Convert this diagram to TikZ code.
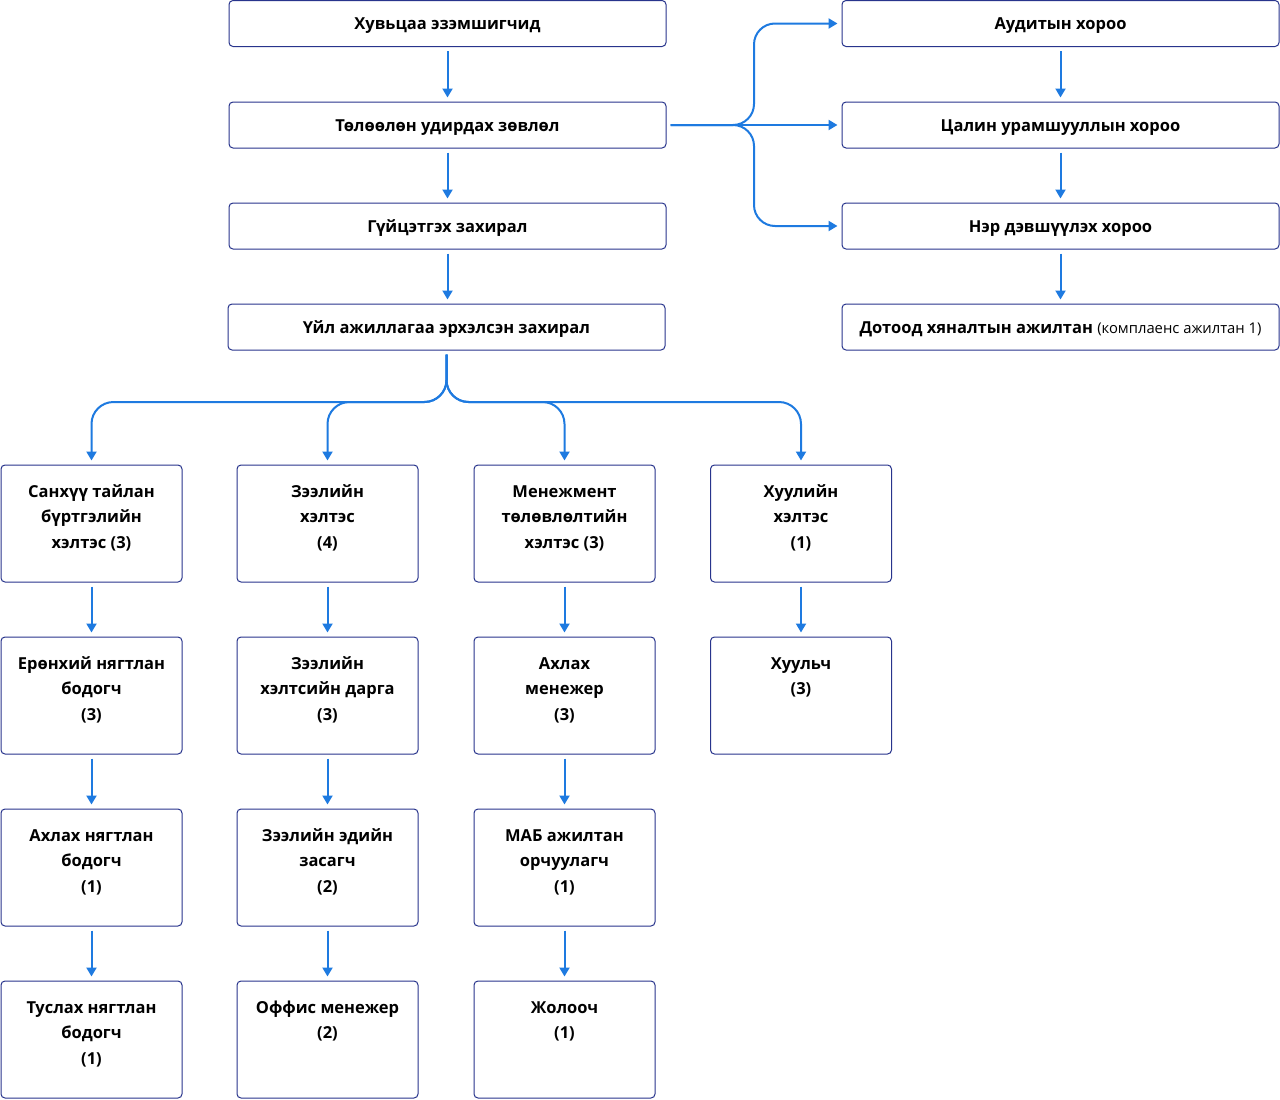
\documentclass[tikz,border=0pt]{standalone}
\usepackage{fontspec}
\setmainfont{Open Sans}
\usetikzlibrary{arrows.meta}
\definecolor{navy}{RGB}{40,52,140}
\definecolor{arrblue}{RGB}{30,122,224}
\newcommand{\cbtext}[1]{\parbox[c][117pt][t]{178pt}{\centering\rule{0pt}{32pt}#1}}
\tikzset{
  hbox/.style={draw=navy, line width=1pt, rounded corners=4pt, minimum width=437pt, minimum height=46pt, inner sep=0pt, text height=13pt, text depth=1pt, font=\fontsize{16.5}{19}\selectfont\bfseries},
  cbox/.style={draw=navy, line width=1pt, rounded corners=4pt, minimum width=181pt, minimum height=117pt, inner sep=0pt, font=\fontsize{16.5}{25.5}\selectfont\bfseries},
  conn/.style={draw=arrblue, line width=2pt, -{Triangle[width=10pt,length=9pt]}, shorten >=4pt, shorten <=4pt},
}
\begin{document}
\begin{tikzpicture}[x=1pt,y=-1pt]
\useasboundingbox[fill=white] (0,0) rectangle (1280,1100);
% left column of main boxes
\node[hbox] (sh) at (447.5,23.5) {Хувьцаа эзэмшигчид};
\node[hbox] (bd) at (447.5,125) {Төлөөлөн удирдах зөвлөл};
\node[hbox] (ce) at (447.5,226) {Гүйцэтгэх захирал};
\node[hbox] (co) at (446.5,327) {Үйл ажиллагаа эрхэлсэн захирал};
% right committees
\node[hbox] (au) at (1060.5,23.5) {Аудитын хороо};
\node[hbox] (rc) at (1060.5,125) {Цалин урамшууллын хороо};
\node[hbox] (nc) at (1060.5,226) {Нэр дэвшүүлэх хороо};
\node[hbox] (ic) at (1060.5,327) {Дотоод хяналтын ажилтан {\fontsize{14.8}{16}\selectfont\mdseries (комплаенс ажилтан 1)}};
% column 1
\node[cbox] (a1) at (91.5,523.5) {\cbtext{Санхүү тайлан\\бүртгэлийн\\хэлтэс (3)}};
\node[cbox] (a2) at (91.5,695.5) {\cbtext{Ерөнхий нягтлан\\бодогч\\(3)}};
\node[cbox] (a3) at (91.5,867.5) {\cbtext{Ахлах нягтлан\\бодогч\\(1)}};
\node[cbox] (a4) at (91.5,1039.5) {\cbtext{Туслах нягтлан\\бодогч\\(1)}};
% column 2
\node[cbox] (b1) at (327.5,523.5) {\cbtext{Зээлийн\\хэлтэс\\(4)}};
\node[cbox] (b2) at (327.5,695.5) {\cbtext{Зээлийн\\хэлтсийн дарга\\(3)}};
\node[cbox] (b3) at (327.5,867.5) {\cbtext{Зээлийн эдийн\\засагч\\(2)}};
\node[cbox] (b4) at (327.5,1039.5) {\cbtext{Оффис менежер\\(2)}};
% column 3
\node[cbox] (c1) at (564.5,523.5) {\cbtext{Менежмент\\төлөвлөлтийн\\хэлтэс (3)}};
\node[cbox] (c2) at (564.5,695.5) {\cbtext{Ахлах\\менежер\\(3)}};
\node[cbox] (c3) at (564.5,867.5) {\cbtext{МАБ ажилтан\\орчуулагч\\(1)}};
\node[cbox] (c4) at (564.5,1039.5) {\cbtext{Жолооч\\(1)}};
% column 4
\node[cbox] (d1) at (801,523.5) {\cbtext{Хуулийн\\хэлтэс\\(1)}};
\node[cbox] (d2) at (801,695.5) {\cbtext{Хуульч\\(3)}};
% connectors
\draw[conn] (sh) -- (bd);
\draw[conn] (bd) -- (ce);
\draw[conn] (ce.south) -- (ce.south |- co.north);
\draw[conn] (au) -- (rc);
\draw[conn] (rc) -- (nc);
\draw[conn] (nc) -- (ic);
\coordinate (rh) at (754,125);
\draw[conn, rounded corners=21pt] (bd.east) -- (rh) |- (au.west);
\draw[conn] (bd.east) -- (rc.west);
\draw[conn, rounded corners=21pt] (bd.east) -- (rh) |- (nc.west);
\coordinate (hub) at (446.5,402);
\foreach \n in {a1,b1,c1,d1}{
  \draw[conn, rounded corners=22pt] (co.south) -- (hub) -| (\n.north);
}
\foreach \p/\q in {a1/a2,a2/a3,a3/a4,b1/b2,b2/b3,b3/b4,c1/c2,c2/c3,c3/c4,d1/d2}{
  \draw[conn] (\p) -- (\q);
}
\end{tikzpicture}
\end{document}
